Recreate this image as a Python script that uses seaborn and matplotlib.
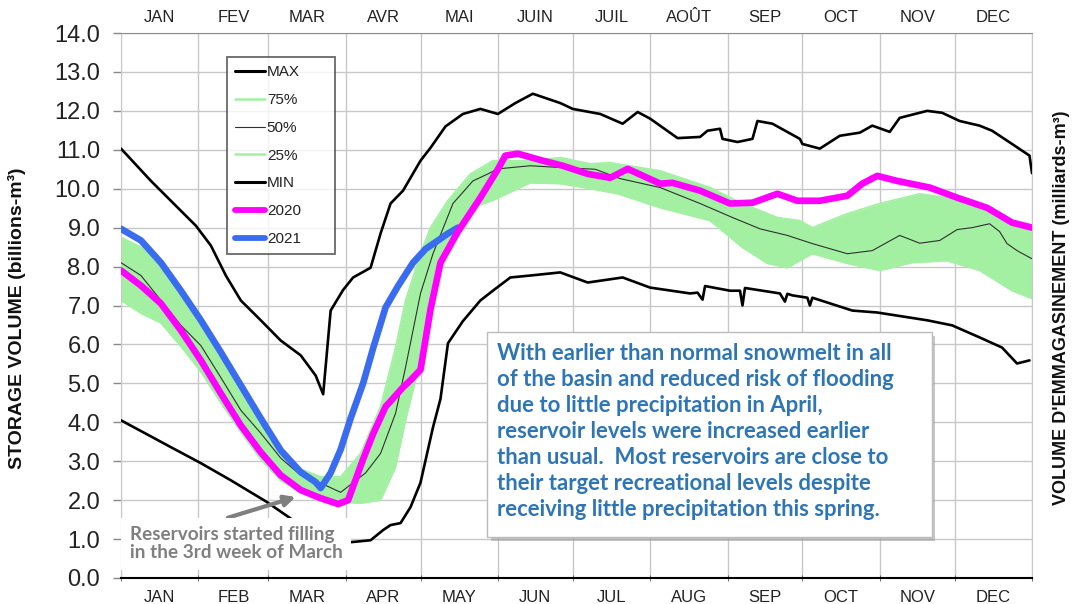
import pandas as pd
import seaborn as sns
import matplotlib.pyplot as plt
from matplotlib.patches import Rectangle
from matplotlib.lines import Line2D

# x = day of year (0 = 1 Jan), y = storage volume (billions m3)
max_days = [0, 12, 22, 30, 36, 42, 48, 56, 64, 72, 78, 81, 84, 89, 93, 100, 104, 108, 113, 120, 124,
            130, 137, 144, 151, 158, 165, 176, 181, 192, 201, 207, 212, 223, 232, 235, 240, 241, 247,
            253, 255, 261, 272, 273, 280, 288, 296, 301, 308, 312, 323, 329, 336, 344, 349, 357, 364, 365]
max_vals = [11.03, 10.2, 9.56, 9.05, 8.54, 7.77, 7.13, 6.62, 6.1, 5.72, 5.2, 4.72, 6.87, 7.4, 7.72,
            7.97, 8.85, 9.62, 9.95, 10.72, 11.05, 11.6, 11.92, 12.05, 11.92, 12.2, 12.44, 12.2, 12.05,
            11.92, 11.67, 11.97, 11.8, 11.3, 11.33, 11.49, 11.54, 11.28, 11.2, 11.28, 11.74, 11.67,
            11.28, 11.15, 11.03, 11.36, 11.44, 11.62, 11.46, 11.82, 12.0, 11.95, 11.74, 11.62, 11.49,
            11.15, 10.85, 10.4]

min_days = [0, 9, 20, 32, 44, 58, 70, 80, 92, 100, 105, 108, 112, 116, 120, 125, 128, 131, 137, 144,
            149, 156, 164, 176, 187, 201, 212, 228, 231, 233, 234, 244, 248, 249, 250, 264, 266, 267,
            269, 275, 276, 277, 293, 303, 323, 333, 344, 353, 359, 364]
min_vals = [4.05, 3.74, 3.36, 2.95, 2.51, 1.97, 1.44, 1.1, 0.92, 0.97, 1.23, 1.36, 1.41, 1.82, 2.45,
            3.87, 4.6, 6.03, 6.6, 7.13, 7.38, 7.72, 7.77, 7.85, 7.59, 7.72, 7.46, 7.31, 7.33, 7.15, 7.5,
            7.38, 7.38, 7.0, 7.45, 7.31, 7.1, 7.3, 7.26, 7.2, 7.0, 7.2, 6.87, 6.82, 6.62, 6.49, 6.18,
            5.92, 5.51, 5.59]

p50_days = [0, 8, 16, 24, 32, 40, 48, 56, 64, 72, 80, 88, 93, 98, 104, 110, 114, 120, 125, 133, 141,
            147, 151, 164, 177, 190, 200, 216, 232, 245, 256, 267, 277, 291, 301, 312, 320, 328, 335,
            341, 348, 352, 355, 359, 365]
p50_vals = [8.1, 7.77, 7.13, 6.49, 5.97, 5.15, 4.31, 3.72, 3.08, 2.64, 2.44, 2.2, 2.45, 2.7, 3.2,
            4.23, 5.41, 7.31, 8.33, 9.62, 10.2, 10.38, 10.51, 10.59, 10.54, 10.5, 10.26, 10.03, 9.62,
            9.26, 8.97, 8.8, 8.59, 8.33, 8.41, 8.8, 8.6, 8.67, 8.95, 9.0, 9.1, 8.9, 8.59, 8.41, 8.2]

p75_days = [0, 8, 16, 24, 32, 40, 48, 56, 64, 72, 80, 88, 96, 104, 110, 114, 120, 124, 131, 140, 149,
            164, 176, 188, 196, 216, 236, 249, 263, 272, 277, 291, 304, 320, 331, 347, 357, 365]
p75_vals = [8.75, 8.5, 8.0, 7.3, 6.55, 5.75, 4.9, 4.05, 3.25, 2.8, 2.6, 2.6, 3.2, 4.4, 5.92, 7.13,
            8.33, 9.0, 9.7, 10.38, 10.72, 10.72, 10.8, 10.64, 10.67, 10.46, 10.03, 9.62, 9.26, 9.18,
            9.0, 9.36, 9.62, 9.87, 9.77, 9.44, 9.1, 8.92]

p25_days = [0, 8, 16, 24, 32, 40, 48, 56, 64, 72, 80, 88, 96, 104, 110, 114, 120, 124, 131, 140, 149,
            164, 176, 188, 199, 216, 236, 249, 259, 267, 272, 277, 291, 304, 317, 331, 344, 357, 365]
p25_vals = [7.13, 6.8, 6.55, 5.95, 5.3, 4.5, 3.75, 3.05, 2.5, 2.2, 2.15, 1.95, 1.92, 2.0, 2.85, 4.05,
            5.6, 7.05, 8.5, 9.5, 9.7, 10.15, 10.13, 10.0, 9.87, 9.51, 9.18, 8.49, 8.08, 7.97, 8.15,
            8.33, 8.08, 7.9, 8.1, 8.15, 7.9, 7.38, 7.18]

y2020_days = [0, 8, 16, 24, 32, 40, 48, 56, 64, 72, 80, 87, 91, 97, 101, 106, 113, 116, 120, 124, 128,
              135, 144, 151, 154, 159, 169, 177, 187, 196, 203, 216, 221, 232, 244, 253, 263, 271, 280,
              291, 297, 303, 311, 324, 335, 347, 357, 365]
y2020_vals = [7.9, 7.51, 7.05, 6.36, 5.59, 4.74, 3.92, 3.23, 2.64, 2.26, 2.05, 1.9, 2.0, 3.05, 3.7,
              4.4, 4.9, 5.08, 5.35, 6.9, 8.1, 8.9, 9.77, 10.5, 10.85, 10.9, 10.72, 10.59, 10.38, 10.28,
              10.51, 10.13, 10.15, 9.95, 9.62, 9.64, 9.87, 9.69, 9.69, 9.82, 10.13, 10.33, 10.2, 10.03,
              9.77, 9.51, 9.13, 9.0]

y2021_days = [0, 8, 16, 24, 32, 40, 48, 56, 64, 72, 78, 80, 84, 88, 92, 97, 101, 106, 111, 117, 122,
              127, 131, 135]
y2021_vals = [8.97, 8.67, 8.1, 7.38, 6.62, 5.8, 4.95, 4.1, 3.28, 2.72, 2.46, 2.31, 2.7, 3.3, 4.1, 5.0,
              5.9, 6.95, 7.5, 8.1, 8.45, 8.67, 8.85, 9.0]

month_starts = [0, 31, 59, 90, 120, 151, 181, 212, 243, 273, 304, 334, 365]
months_en = ['JAN', 'FEB', 'MAR', 'APR', 'MAY', 'JUN', 'JUL', 'AUG', 'SEP', 'OCT', 'NOV', 'DEC']
months_fr = ['JAN', 'FEV', 'MAR', 'AVR', 'MAI', 'JUIN', 'JUIL', 'AOÛT', 'SEP', 'OCT', 'NOV', 'DEC']

band_green = '#a3f0a3'
note_blue = '#2e75b6'

sns.set_style('white')
plt.rcParams['font.family'] = ['Liberation Sans', 'DejaVu Sans']

fig = plt.figure(figsize=(10.75, 6.04), dpi=100)
ax = fig.add_axes([121 / 1075, 1 - 578 / 604, (1032 - 121) / 1075, (578 - 33) / 604])

# percentile band (25% - 75%)
band = pd.merge(pd.DataFrame({'day': p75_days, 'p75': p75_vals}),
                pd.DataFrame({'day': p25_days, 'p25': p25_vals}), on='day', how='outer').sort_values('day')
band = band.set_index('day').interpolate(method='index').reset_index()
ax.fill_between(band['day'], band['p25'], band['p75'], color=band_green, lw=0, zorder=1)
sns.lineplot(x=p75_days, y=p75_vals, ax=ax, color=band_green, lw=1.2, zorder=1)
sns.lineplot(x=p25_days, y=p25_vals, ax=ax, color=band_green, lw=1.2, zorder=1)

sns.lineplot(x=p50_days, y=p50_vals, ax=ax, color='#303030', lw=0.8, zorder=3)
sns.lineplot(x=max_days, y=max_vals, ax=ax, color='black', lw=1.9, zorder=3)
sns.lineplot(x=min_days, y=min_vals, ax=ax, color='black', lw=1.9, zorder=3)
sns.lineplot(x=y2021_days, y=y2021_vals, ax=ax, color='#3a6cf0', lw=4.8, zorder=4,
             solid_capstyle='round', solid_joinstyle='round')
sns.lineplot(x=y2020_days, y=y2020_vals, ax=ax, color='#ff00ff', lw=4.8, zorder=4.5,
             solid_capstyle='round', solid_joinstyle='round')

# axes
ax.set_xlim(0, 365)
ax.set_ylim(0, 14)
ax.set_yticks(range(0, 15))
ax.set_yticklabels([f'{v:.1f}' for v in range(0, 15)], fontsize=17, color='#222222')
ax.tick_params(axis='y', length=6, width=1, color='#888888', left=True, pad=9)
centers = [(a + b) / 2 for a, b in zip(month_starts[:-1], month_starts[1:])]
ax.set_xticks(centers)
ax.set_xticklabels(months_en, fontsize=12, color='#222222')
ax.set_xticks(month_starts, minor=True)
ax.tick_params(axis='x', which='major', length=0, pad=9)
ax.tick_params(axis='x', which='minor', length=4, direction='inout', color='#555555', bottom=True)
ax.grid(which='minor', axis='x', color='#c8c8c8', lw=1)
ax.grid(which='major', axis='y', color='#c8c8c8', lw=1)
ax.grid(which='major', axis='x', visible=False)
ax.set_axisbelow(True)
ax.set_xlabel('')
ax.set_ylabel('')
for side in ['left', 'right']:
    ax.spines[side].set_color('#c8c8c8')
ax.spines['top'].set_color('#8c8c8c')
ax.spines['bottom'].set_color('black')
ax.spines['bottom'].set_linewidth(1.5)

top = ax.secondary_xaxis('top')
top.set_xticks(centers)
top.set_xticklabels(months_fr, fontsize=12, color='#222222')
top.tick_params(length=0, pad=6)
top.spines['top'].set_visible(False)

fig.text(17 / 1075, 1 - 318 / 604, 'STORAGE VOLUME (billions-m³)', rotation=90, ha='center',
         va='center', fontsize=14, fontweight='bold', color='#111111')
fig.text(1062 / 1075, 1 - 308 / 604, "VOLUME D'EMMAGASINEMENT (milliards-m³)", rotation=90,
         ha='center', va='center', fontsize=13, fontweight='bold', color='#111111')

# legend
handles = [Line2D([], [], color='black', lw=2.2),
           Line2D([], [], color=band_green, lw=1.8),
           Line2D([], [], color='#303030', lw=0.8),
           Line2D([], [], color=band_green, lw=1.8),
           Line2D([], [], color='black', lw=2.2),
           Line2D([], [], color='#ff00ff', lw=4.2),
           Line2D([], [], color='#3a6cf0', lw=4.2)]
labels = ['MAX', '75%', '50%', '25%', 'MIN', '2020', '2021']
leg = ax.legend(handles, labels, loc='upper left', bbox_to_anchor=(0.1164, 0.607, 0.1186, 0.349),
                mode='expand', frameon=True, fancybox=False, edgecolor='#444444', fontsize=11,
                handlelength=1.95, handletextpad=0.1, labelspacing=0.9, borderpad=0.55,
                borderaxespad=0)
leg.get_frame().set_linewidth(1.3)
for t in leg.get_texts():
    t.set_color('#222222')

# note box
ax.add_patch(Rectangle((0.406, 0.068), 0.488, 0.376, transform=ax.transAxes,
                       fc='#9a9a9a', ec='none', alpha=0.55, zorder=6))
ax.add_patch(Rectangle((0.402, 0.075), 0.488, 0.376, transform=ax.transAxes,
                       fc='white', ec='#bcbcbc', lw=1, zorder=7))
note = ('With earlier than normal snowmelt in all\n'
        'of the basin and reduced risk of flooding\n'
        'due to little precipitation in April,\n'
        'reservoir levels were increased earlier\n'
        'than usual.  Most reservoirs are close to\n'
        'their target recreational levels despite\n'
        'receiving little precipitation this spring.')
ax.text(0.413, 0.432, note, transform=ax.transAxes, ha='left', va='top', fontsize=15.9,
        fontweight='bold', color=note_blue, family=['Lato', 'DejaVu Sans'], linespacing=1.3,
        zorder=8)

ax.annotate('Reservoirs started filling\nin the 3rd week of March',
            xy=(70, 2.08), xytext=(3.5, 1.33), textcoords='data', ha='left', va='top',
            fontsize=13.6, fontweight='bold', color='#7f7f7f', family=['Lato', 'DejaVu Sans'],
            linespacing=1.08, zorder=6,
            bbox=dict(boxstyle='square,pad=0.45', fc='white', ec='none'),
            arrowprops=dict(arrowstyle='-|>', color='#7f7f7f', lw=3, mutation_scale=16,
                            shrinkA=0, shrinkB=0, relpos=(0.33, 1.0)))

fig.savefig('out.png', dpi=100)
